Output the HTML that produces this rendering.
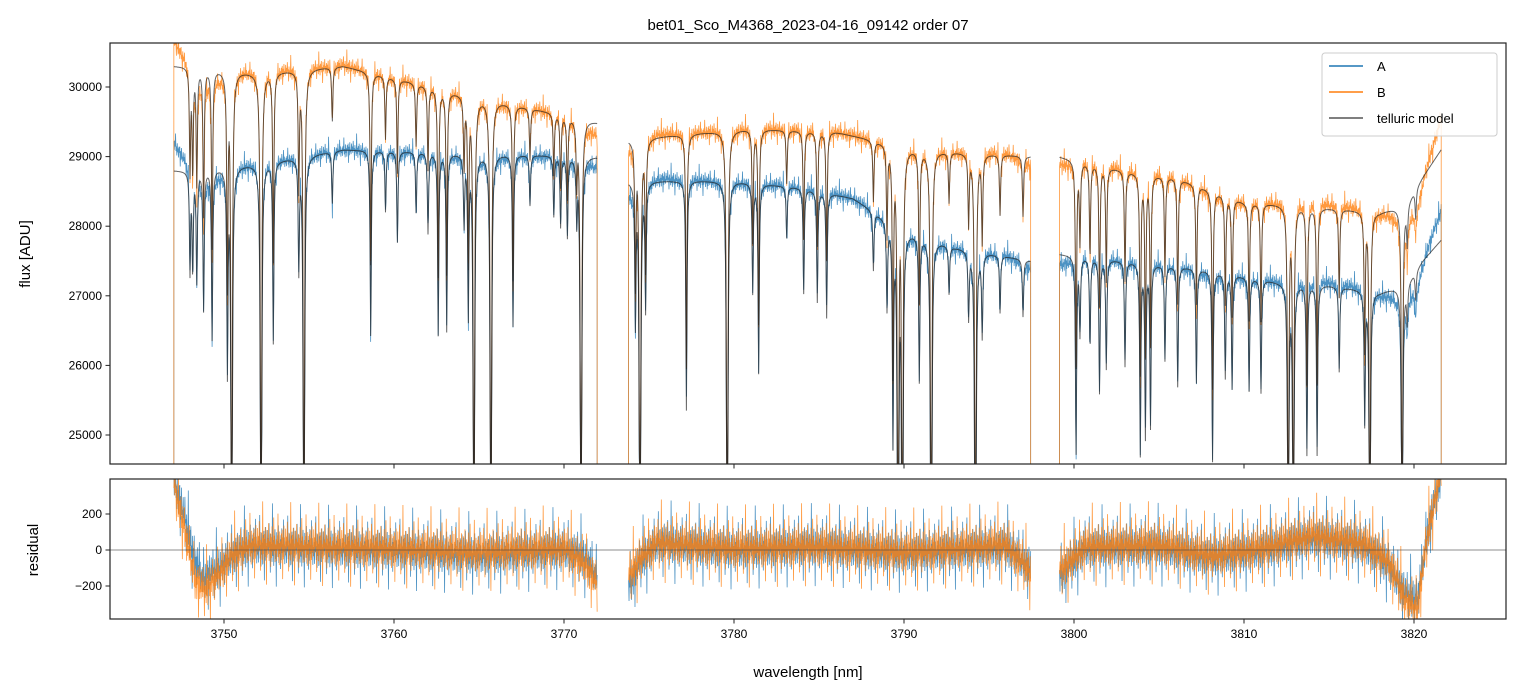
<!DOCTYPE html>
<html><head><meta charset="utf-8"><style>
html,body{margin:0;padding:0;background:#fff;overflow:hidden;width:1520px;height:696px;}
svg{display:block;}
svg text{font-family:"Liberation Sans","DejaVu Sans",sans-serif;fill:#000;}
</style></head><body>
<svg id="chart" width="1520" height="696" viewBox="0 0 1520 696" xmlns="http://www.w3.org/2000/svg">
<defs>
<clipPath id="cTop"><rect x="110" y="43" width="1396" height="421"/></clipPath>
<clipPath id="cBot"><rect x="110" y="479" width="1396" height="140"/></clipPath>
</defs>
<rect width="1520" height="696" fill="#fff"/>
<text x="808" y="30" font-size="15" text-anchor="middle">bet01_Sco_M4368_2023-04-16_09142  order 07</text>
<g id="topG" clip-path="url(#cTop)"></g>
<g id="botG" clip-path="url(#cBot)"></g>
<rect x="110" y="43" width="1396" height="421" fill="none" stroke="#222" stroke-width="1.2"/>
<rect x="110" y="479" width="1396" height="140" fill="none" stroke="#222" stroke-width="1.2"/>
<g id="axesG"></g>
<text transform="translate(30,254) rotate(-90)" font-size="15" text-anchor="middle">flux [ADU]</text>
<text transform="translate(38,550) rotate(-90)" font-size="15" text-anchor="middle">residual</text>
<text x="808" y="677" font-size="15" text-anchor="middle">wavelength [nm]</text>
<g>
<rect x="1322" y="53" width="175" height="83" rx="3" fill="#fff" fill-opacity="0.85" stroke="#ccc"/>
<line x1="1329" y1="66" x2="1363" y2="66" stroke="#1f77b4" stroke-width="1.5"/>
<text x="1377" y="71" font-size="13">A</text>
<line x1="1329" y1="92" x2="1363" y2="92" stroke="#ff7f0e" stroke-width="1.5"/>
<text x="1377" y="97" font-size="13">B</text>
<line x1="1329" y1="118" x2="1363" y2="118" stroke="#555" stroke-width="1.5"/>
<text x="1377" y="123" font-size="13">telluric model</text>
</g>
</svg>
<script>
// ---- data ----
const segments = [[3747.05,3771.95],[3773.8,3797.45],[3799.15,3821.6]];
const contA = [[3747.0,28800],[3748,28800],[3752,28900],[3757,29100],[3764,29050],[3771.9,29000],
 [3773.8,28650],[3780,28650],[3784,28550],[3787,28400],[3790,27950],[3793,27700],[3797.5,27500],
 [3799.1,27600],[3803,27500],[3807,27400],[3812,27200],[3815,27150],[3818,27050],[3819.5,27150],[3820.5,27500],[3821.6,27800]];
const contB = [[3747.0,30300],[3748,30300],[3752,30200],[3757,30300],[3764,29900],[3771.9,29500],
 [3773.8,29250],[3781,29400],[3786,29350],[3791,29100],[3797.5,29000],
 [3799.1,29000],[3803,28800],[3806,28700],[3810,28350],[3813,28300],[3818,28200],[3819.5,28300],[3820.5,28700],[3821.6,29100]];
const lineCenters = [3748.0,3748.16,3748.4,3748.8,3749.3,3750.2,3750.45,3752.18,3752.9,3754.4,3754.7,3756.37,3758.63,3759.5,3760.2,3761.3,3762.0,3762.6,3763.1,3764.12,3764.37,3764.7,3765.7,3767.0,3768.0,3769.4,3769.8,3770.2,3770.75,3771.0,
 3774.2,3774.47,3774.8,3777.2,3779.6,3781.1,3781.45,3783.1,3784.1,3784.9,3785.45,3788.2,3789.0,3789.35,3789.65,3789.9,3790.9,3791.6,3792.65,3793.8,3794.2,3794.6,3795.65,3797.0,
 3800.12,3800.35,3800.94,3801.5,3801.9,3803.0,3803.9,3804.2,3804.5,3805.35,3806.1,3807.2,3808.15,3808.9,3809.3,3810.3,3811.0,3812.6,3812.9,3813.7,3814.3,3815.6,3817.1,3817.4,3819.3,3819.6,3820.1];
const lineDepths = [0.05,0.05,0.055,0.07,0.085,0.1,0.3,0.3,0.09,0.055,0.3,0.026,0.093,0.03,0.045,0.03,0.04,0.09,0.088,0.035,0.08,0.3,0.3,0.085,0.025,0.03,0.035,0.04,0.03,0.3,
 0.07,0.3,0.063,0.115,0.3,0.055,0.095,0.026,0.053,0.056,0.063,0.03,0.045,0.11,0.3,0.3,0.075,0.3,0.025,0.035,0.3,0.043,0.03,0.03,
 0.104,0.04,0.047,0.07,0.057,0.055,0.1,0.09,0.085,0.05,0.063,0.06,0.1,0.055,0.06,0.06,0.06,0.2,0.2,0.09,0.09,0.045,0.07,0.2,0.2,0.02,0.015];
const residA = [[3747.0,420],[3747.6,200],[3748.3,-60],[3748.8,-160],[3749.5,-120],[3750.5,-30],[3751.5,20],[3760,0],[3765,-30],[3770,0],[3771.3,-50],[3771.95,-150],
 [3773.8,-200],[3774.6,-50],[3775.5,40],[3780,0],[3785,20],[3790,-20],[3796,20],[3797.45,-100],
 [3799.1,-150],[3799.8,-80],[3800.6,10],[3805,20],[3808,-40],[3811,0],[3814,70],[3817,30],[3818.5,-80],[3819.5,-250],[3820.2,-280],[3820.8,100],[3821.6,420]];
const residB = [[3747.0,380],[3747.6,150],[3748.3,-160],[3748.8,-230],[3749.5,-150],[3750.5,-30],[3751.5,30],[3760,10],[3765,-10],[3770,10],[3771.3,-80],[3771.95,-200],
 [3773.8,-150],[3774.6,-30],[3775.5,40],[3780,10],[3785,20],[3790,-10],[3796,30],[3797.45,-120],
 [3799.1,-120],[3799.8,-60],[3800.6,20],[3805,30],[3808,-30],[3811,10],[3814,80],[3817,40],[3818.5,-60],[3819.5,-280],[3820.2,-320],[3820.8,80],[3821.6,450]];
const noiseAmp = 110;
const xTicks = [3750,3760,3770,3780,3790,3800,3810,3820];
const yTicksTop = [25000,26000,27000,28000,29000,30000];
const yTicksBot = [-200,0,200];
// ---- axes ----
const X = nm => 224 + (nm-3750)*17;
const YTraw = f => 87 + (30000-f)*0.0696;
const YBraw = r => 550 - r*0.18;
const YT = f => Math.min(470, Math.max(38, YTraw(f)));
const YB = r => Math.min(624, Math.max(474, YBraw(r)));
const pattern = [0.3,-0.8,0.5,-0.2,1.6,-0.6,0.1,-1,0.7,-0.4,0.2,-0.9,0.6,-0.1,0.8,-1.7,0.4,-0.7,1,-0.3,0.05,-0.55,0.85,-0.15,
 0.45,-0.35,1.2,-0.05,0.25,-1.3,0.65,-0.25,0.15,-0.75,2.2,-0.45,0.35,-0.95,0.55,-0.2,0.9,-0.6,0.1,-2.0,0.75,-0.5,0.3,-0.1,1.1,-0.8,0.2,-0.35,0.6,-1.1,0.4,-0.65,0.95,-0.3,0.15,-0.5,1.4,-0.25,0.5,-0.85,0.05,-0.4];
function interp(k,x){ if(x<=k[0][0])return k[0][1]; for(let i=1;i<k.length;i++){ if(x<=k[i][0]){const t=(x-k[i-1][0])/(k[i][0]-k[i-1][0]);return k[i-1][1]+t*(k[i][1]-k[i-1][1]);}} return k[k.length-1][1]; }
function tell(x){ let p=1; for(let i=0;i<lineCenters.length;i++){const d=(x-lineCenters[i])/0.04; if(Math.abs(d)<80) p*=1-lineDepths[i]/(1+d*d);} return p; }
const NS='http://www.w3.org/2000/svg';
function mk(tag,attrs,parent){const e=document.createElementNS(NS,tag);for(const k in attrs)e.setAttribute(k,attrs[k]);parent.appendChild(e);return e;}
const topG=document.getElementById('topG'), botG=document.getElementById('botG'), axesG=document.getElementById('axesG');
let dA='',dB='',mA='',mB='',rA='',rB='';
const step=0.025;
const floorFlux=0;
segments.forEach(([s,e])=>{
  let first=true, i=0;
  for(let x=s;x<=e+1e-9;x+=step,i++){
    const t=tell(x), ma=interp(contA,x)*t, mb=interp(contB,x)*t;
    const na=noiseAmp*pattern[i%pattern.length], nb=noiseAmp*pattern[(i+23)%pattern.length];
    const ra=interp(residA,x)+na, rb=interp(residB,x)+nb;
    const px=X(x).toFixed(2);
    if(first){dA+=`M${px},${YT(floorFlux).toFixed(2)}`;dB+=`M${px},${YT(floorFlux).toFixed(2)}`;mA+=`M${px},${YT(ma).toFixed(2)}`;mB+=`M${px},${YT(mb).toFixed(2)}`;rA+=`M${px},${YB(ra).toFixed(2)}`;rB+=`M${px},${YB(rb).toFixed(2)}`;first=false;}
    else{mA+=`L${px},${YT(ma).toFixed(2)}`;mB+=`L${px},${YT(mb).toFixed(2)}`;rA+=`L${px},${YB(ra).toFixed(2)}`;rB+=`L${px},${YB(rb).toFixed(2)}`;}
    dA+=`L${px},${YT(ma+ra).toFixed(2)}`; dB+=`L${px},${YT(mb+rb).toFixed(2)}`;
  }
  dA+=`L${X(e).toFixed(2)},${YT(floorFlux).toFixed(2)}`; dB+=`L${X(e).toFixed(2)},${YT(floorFlux).toFixed(2)}`;
});
let el;
el=mk('path',{d:dA,fill:'none',stroke:'#1f77b4','stroke-width':0.8,'stroke-opacity':0.8},topG);


el=mk('path',{d:dB,fill:'none',stroke:'#ff7f0e','stroke-width':0.8,'stroke-opacity':0.8},topG);


el=mk('path',{d:mA,fill:'none',stroke:'#222','stroke-width':1,'stroke-opacity':0.7},topG);


el=mk('path',{d:mB,fill:'none',stroke:'#222','stroke-width':1,'stroke-opacity':0.7},topG);


el=mk('path',{d:rA,fill:'none',stroke:'#1f77b4','stroke-width':0.8,'stroke-opacity':0.8},botG);


el=mk('path',{d:rB,fill:'none',stroke:'#ff7f0e','stroke-width':0.8,'stroke-opacity':0.8},botG);


el=mk('line',{x1:110,x2:1506,y1:YB(0),y2:YB(0),stroke:'#444','stroke-width':0.8,'stroke-opacity':0.8},botG);


xTicks.forEach(v=>{
  const x=X(v);
  mk('line',{x1:x,x2:x,y1:464,y2:468.5,stroke:'#222','stroke-width':1},axesG);
  mk('line',{x1:x,x2:x,y1:619,y2:623.5,stroke:'#222','stroke-width':1},axesG);
  const t=mk('text',{x:x,y:638,'font-size':12,'text-anchor':'middle'},axesG);
  t.textContent=v;
  
  
});
yTicksTop.forEach(v=>{
  const y=YT(v);
  mk('line',{x1:105.5,x2:110,y1:y,y2:y,stroke:'#222','stroke-width':1},axesG);
  const t=mk('text',{x:102,y:y+4,'font-size':12,'text-anchor':'end'},axesG);
  t.textContent=v;
  
  
});
yTicksBot.forEach(v=>{
  const y=YB(v);
  mk('line',{x1:105.5,x2:110,y1:y,y2:y,stroke:'#222','stroke-width':1},axesG);
  const t=mk('text',{x:102,y:y+4,'font-size':12,'text-anchor':'end'},axesG);
  t.textContent=v<0?'\u2212'+(-v):String(v);
  
  
});
</script>
</body></html>
